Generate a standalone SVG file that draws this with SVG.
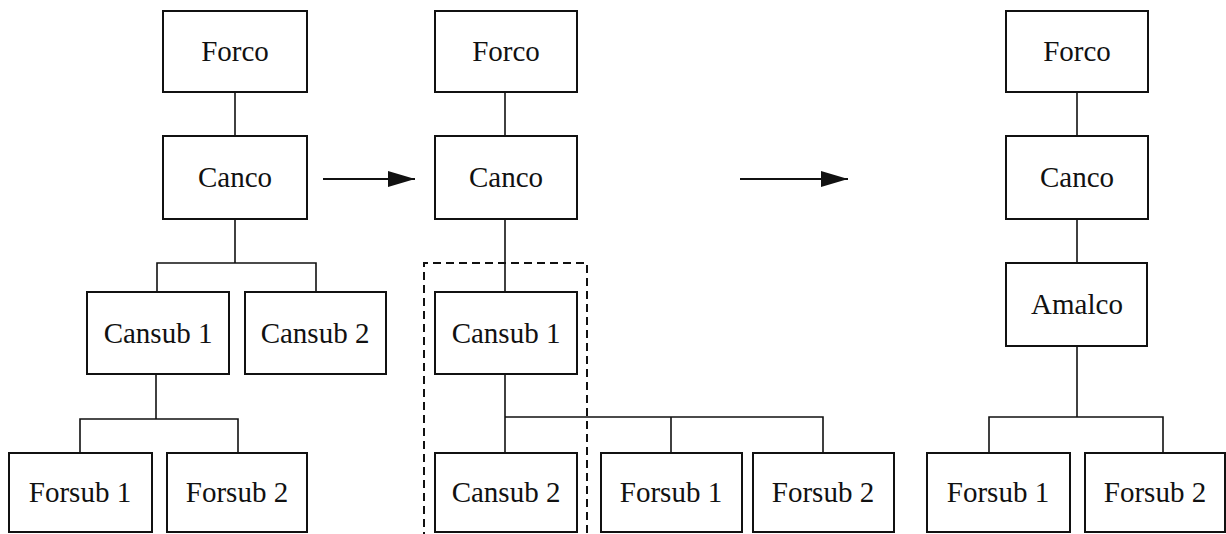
<svg xmlns="http://www.w3.org/2000/svg" width="1226" height="534" viewBox="0 0 1226 534">
<style>
  .box { fill: #fff; stroke: #111; stroke-width: 2; }
  .lbl { font-family: "Liberation Serif", "Times New Roman", serif; font-size: 29px; fill: #111; text-anchor: middle; }
  .con { fill: none; stroke: #111; stroke-width: 1.6; }
  .dash { fill: none; stroke: #111; stroke-width: 2; stroke-dasharray: 8 5; }
  .arr { fill: none; stroke: #111; stroke-width: 2; marker-end: url(#ah); }
</style>
<defs>
  <marker id="ah" markerUnits="userSpaceOnUse" markerWidth="28" markerHeight="18" refX="27" refY="9" orient="auto">
    <path d="M0,1 L27,9 L0,17 Z" fill="#111"/>
  </marker>
</defs>
<rect width="1226" height="534" fill="#fff"/>

<g id="connectors">
  <!-- left tree -->
  <path class="con" d="M235,92 V136"/>
  <path class="con" d="M235,219 V263"/>
  <path class="con" d="M157,292 V263 H316 V292"/>
  <path class="con" d="M156,374 V419"/>
  <path class="con" d="M80,453 V419 H238 V453"/>
  <!-- middle tree -->
  <path class="con" d="M505,92 V136"/>
  <path class="con" d="M505,219 V292"/>
  <path class="con" d="M505,374 V453"/>
  <path class="con" d="M505,417 H823 V453"/>
  <path class="con" d="M671,417 V453"/>
  <!-- right tree -->
  <path class="con" d="M1077,92 V136"/>
  <path class="con" d="M1077,219 V263"/>
  <path class="con" d="M1077,346 V417"/>
  <path class="con" d="M989,453 V417 H1163 V453"/>
  <!-- transition arrows -->
  <path class="arr" d="M323,179 H415"/>
  <path class="arr" d="M740,179 H848"/>
  <!-- dashed grouping -->
  <path class="dash" d="M424,540 V263 H587 V540"/>
</g>

<g id="L_forco"><rect class="box" x="163" y="11" width="144" height="81"/><text class="lbl" x="235" y="61">Forco</text></g>
<g id="L_canco"><rect class="box" x="163" y="136" width="144" height="83"/><text class="lbl" x="235" y="187">Canco</text></g>
<g id="L_cansub1"><rect class="box" x="87" y="292" width="142" height="82"/><text class="lbl" x="158" y="343">Cansub 1</text></g>
<g id="L_cansub2"><rect class="box" x="245" y="292" width="141" height="82"/><text class="lbl" x="315" y="343">Cansub 2</text></g>
<g id="L_forsub1"><rect class="box" x="9" y="453" width="143" height="79"/><text class="lbl" x="80" y="502">Forsub 1</text></g>
<g id="L_forsub2"><rect class="box" x="167" y="453" width="140" height="79"/><text class="lbl" x="237" y="502">Forsub 2</text></g>

<g id="M_forco"><rect class="box" x="435" y="11" width="142" height="81"/><text class="lbl" x="506" y="61">Forco</text></g>
<g id="M_canco"><rect class="box" x="435" y="136" width="142" height="83"/><text class="lbl" x="506" y="187">Canco</text></g>
<g id="M_cansub1"><rect class="box" x="435" y="292" width="142" height="82"/><text class="lbl" x="506" y="343">Cansub 1</text></g>
<g id="M_cansub2"><rect class="box" x="435" y="453" width="142" height="79"/><text class="lbl" x="506" y="502">Cansub 2</text></g>
<g id="M_forsub1"><rect class="box" x="601" y="453" width="141" height="79"/><text class="lbl" x="671" y="502">Forsub 1</text></g>
<g id="M_forsub2"><rect class="box" x="753" y="453" width="141" height="79"/><text class="lbl" x="823" y="502">Forsub 2</text></g>

<g id="R_forco"><rect class="box" x="1006" y="11" width="142" height="81"/><text class="lbl" x="1077" y="61">Forco</text></g>
<g id="R_canco"><rect class="box" x="1006" y="136" width="142" height="83"/><text class="lbl" x="1077" y="187">Canco</text></g>
<g id="R_amalco"><rect class="box" x="1006" y="263" width="141" height="83"/><text class="lbl" x="1077" y="314">Amalco</text></g>
<g id="R_forsub1"><rect class="box" x="927" y="453" width="143" height="79"/><text class="lbl" x="998" y="502">Forsub 1</text></g>
<g id="R_forsub2"><rect class="box" x="1085" y="453" width="140" height="79"/><text class="lbl" x="1155" y="502">Forsub 2</text></g>
</svg>
